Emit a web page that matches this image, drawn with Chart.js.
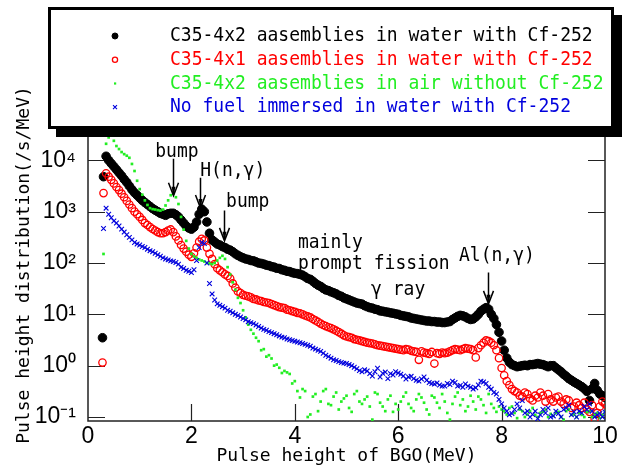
<!DOCTYPE html>
<html>
<head>
<meta charset="utf-8">
<script src="https://cdn.jsdelivr.net/npm/chart.js@4.4.1/dist/chart.umd.min.js"></script>
<style>
    html, body { margin: 0; padding: 0; background: #fff; }
</style>
</head>
<body>
<canvas id="chart" width="628" height="468"></canvas>
<script>
// Pulse height (MeV) of each channel
const energy = [
    0.28, 0.3,
    0.35, 0.4, 0.45, 0.5,
    0.55, 0.6, 0.65, 0.7, 0.75, 0.8, 0.85, 0.9, 0.95, 1.0,
    1.05, 1.1, 1.15, 1.2, 1.25, 1.3, 1.35, 1.4, 1.45, 1.5,
    1.55, 1.6, 1.65, 1.7, 1.75, 1.8, 1.85, 1.9, 1.95, 2.0,
    2.05, 2.1, 2.15, 2.2, 2.25, 2.3, 2.35, 2.4, 2.45, 2.5,
    2.55, 2.6, 2.65, 2.7, 2.75, 2.8, 2.85, 2.9, 2.95, 3.0,
    3.05, 3.1, 3.15, 3.2, 3.25, 3.3, 3.35, 3.4, 3.45, 3.5,
    3.55, 3.6, 3.65, 3.7, 3.75, 3.8, 3.85, 3.9, 3.95, 4.0,
    4.05, 4.1, 4.15, 4.2, 4.25, 4.3, 4.35, 4.4, 4.45, 4.5,
    4.55, 4.6, 4.65, 4.7, 4.75, 4.8, 4.85, 4.9, 4.95, 5.0,
    5.05, 5.1, 5.15, 5.2, 5.25, 5.3, 5.35, 5.4, 5.45, 5.5,
    5.55, 5.6, 5.65, 5.7, 5.75, 5.8, 5.85, 5.9, 5.95, 6.0,
    6.05, 6.1, 6.15, 6.2, 6.25, 6.3, 6.35, 6.4, 6.45, 6.5,
    6.55, 6.6, 6.65, 6.7, 6.75, 6.8, 6.85, 6.9, 6.95, 7.0,
    7.05, 7.1, 7.15, 7.2, 7.25, 7.3, 7.35, 7.4, 7.45, 7.5,
    7.55, 7.6, 7.65, 7.7, 7.75, 7.8, 7.85, 7.9, 7.95, 8.0,
    8.05, 8.1, 8.15, 8.2, 8.25, 8.3, 8.35, 8.4, 8.45, 8.5,
    8.55, 8.6, 8.65, 8.7, 8.75, 8.8, 8.85, 8.9, 8.95, 9.0,
    9.05, 9.1, 9.15, 9.2, 9.25, 9.3, 9.35, 9.4, 9.45, 9.5,
    9.55, 9.6, 9.65, 9.7, 9.75, 9.8, 9.85, 9.9, 9.95, 10.0
];

// Pulse height distribution (/s/MeV), same channel order as energy
const water4x2 = [
    3.5, 4800,
    12000, 10000, 8700, 7600,
    6600, 5750, 5000, 4270, 3720, 3160, 2690, 2340, 2090, 1860,
    1660, 1510, 1380, 1260, 1150, 1070, 1000, 930, 890, 850,
    910, 930, 930, 870, 790, 690, 600, 525, 480, 457,
    500, 630, 890, 1120, 1000, 630, 380, 282, 257, 234,
    224, 209, 200, 186, 178, 166, 151, 141, 132, 126,
    120, 117, 112, 110, 105, 100, 98, 95, 91, 89,
    85, 83, 79, 78, 74, 72, 69, 68, 65, 63,
    62, 60, 58, 54, 50, 48, 44, 40, 37, 35,
    32, 30, 29, 27.5, 26.3, 25.1, 23.4, 22.4, 20.9, 20.0,
    19.1, 18.2, 17.4, 16.6, 16.2, 15.8, 14.8, 14.1, 13.5, 13.2,
    12.6, 12.3, 11.7, 11.5, 11.2, 11.0, 10.7, 10.5, 10.2, 10.0,
    9.55, 9.33, 9.12, 8.91, 8.51, 8.32, 8.13, 7.94, 7.76, 7.59,
    7.41, 7.41, 7.24, 7.24, 7.08, 7.08, 6.92, 6.92, 7.08, 7.24,
    7.94, 8.51, 9.12, 9.55, 9.33, 8.91, 8.32, 7.94, 8.13, 8.91,
    10.0, 11.5, 12.6, 13.5, 12.6, 10.0, 8.32, 6.31, 4.47, 3.02,
    2.0, 1.41, 1.17, 1.05, 1.0, 0.955, 0.977, 1.0, 1.02, 1.0,
    1.05, 1.05, 1.07, 1.1, 1.07, 1.05, 1.0, 0.955, 1.0, 1.0,
    0.91, 0.83, 0.76, 0.68, 0.62, 0.56, 0.52, 0.48, 0.45, 0.42,
    0.39, 0.355, 0.316, 0.21, 0.355, 0.45, 0.33, 0.28, 0.26, 0.24
];
const water4x1 = [
    1.15, 2300,
    5600, 4800, 4170, 3550,
    3020, 2630, 2240, 1910, 1620, 1380, 1170, 1000, 890, 790,
    690, 600, 550, 500, 460, 430, 400, 380, 380, 400,
    430, 450, 400, 330, 275, 224, 191, 166, 145, 132,
    155, 200, 260, 295, 275, 200, 151, 120, 95, 79,
    72, 66, 60, 56, 50, 40, 33, 28, 26, 24,
    23, 22.4, 21.4, 20, 19.5, 18.6, 18.2, 17.4, 17.0, 16.6,
    15.8, 15.1, 14.5, 13.8, 13.5, 13.2, 12.3, 12.0, 11.5, 11.2,
    10.7, 10.5, 10.0, 9.5, 9.1, 8.7, 8.1, 7.6, 7.1, 6.6,
    6.2, 5.9, 5.6, 5.4, 5.1, 4.8, 4.5, 4.2, 3.9, 3.7,
    3.6, 3.5, 3.3, 3.2, 3.1, 3.0, 2.9, 2.8, 2.75, 2.7,
    2.6, 2.5, 2.45, 2.4, 2.35, 2.3, 2.25, 2.2, 2.15, 2.1,
    2.05, 2.0, 2.1, 2.05, 1.95, 1.9, 1.85, 1.3, 1.9, 1.8,
    1.75, 1.7, 1.85, 1.1, 1.75, 1.7, 1.8, 1.75, 1.8, 1.9,
    2.0, 2.1, 2.05, 2.0, 2.1, 2.2, 2.15, 2.1, 2.0, 1.45,
    2.2, 2.5, 2.8, 3.1, 3.0, 2.8, 2.5, 2.0, 1.4, 0.9,
    0.65, 0.5, 0.42, 0.35, 0.32, 0.3, 0.26, 0.25, 0.3, 0.28,
    0.23, 0.21, 0.26, 0.24, 0.3, 0.26, 0.2, 0.28, 0.22, 0.2,
    0.24, 0.25, 0.2, 0.18, 0.22, 0.21, 0.15, 0.16, 0.19, 0.17,
    0.15, 0.19, 0.14, 0.126, 0.17, 0.093, 0.12, 0.16, 0.2, 0.18
];
const air4x2 = [
    null, 150,
    21000, 28000, 32000, 24000,
    19000, 16600, 14500, 13200, 12300, 11200, 8500, 6200, 4000, 2750,
    2140, 1660, 1350, 1170, 1120, 1100, 1070, 1050, 1100, 1320,
    1660, 2090, 2240, 1910, 1410, 790, 447, 270, 191, 151,
    135, 126, 117, 112, 107, 100, 98, 95, 100, 112,
    126, 138, 120, 83, 60, 42, 30, 21, 16.6, 12.0,
    8.7, 6.3, 5.0, 4.2, 3.5, 3.0, 2.0, 2.1, 1.5, 1.6,
    1.38, 1.0, 1.05, 0.91, 0.72, 0.79, 0.74, 0.69, 0.45, 0.5,
    0.32, 0.24, 0.35, 0.32, 0.1, 0.112, 0.25, 0.28, 0.13, 0.2,
    0.32, 0.35, 0.18, 0.17, 0.25, 0.3, 0.14, 0.2, 0.23, 0.26,
    0.15, 0.126, 0.28, 0.32, 0.2, 0.18, 0.22, 0.25, 0.16, 0.089,
    0.3, 0.28, 0.19, 0.16, 0.13, 0.22, 0.26, 0.126, 0.18, 0.14,
    0.2, 0.25, 0.3, 0.18, 0.15, 0.13, 0.22, 0.28, 0.24, 0.19,
    0.14, 0.112, 0.26, 0.24, 0.19, 0.15, 0.28, 0.2, 0.12, 0.089,
    0.18, 0.25, 0.3, 0.17, 0.22, 0.13, 0.16, 0.26, 0.2, 0.14,
    0.25, 0.22, 0.17, 0.12, 0.28, 0.18, 0.15, 0.126, 0.16, 0.14,
    0.13, 0.112, 0.15, 0.16, 0.12, 0.095, 0.14, 0.13, 0.1, 0.112,
    0.13, 0.15, 0.11, 0.1, 0.12, 0.126, 0.14, 0.1, 0.115, 0.105,
    0.12, 0.126, 0.1, 0.089, 0.13, 0.14, 0.11, 0.112, 0.1, 0.12,
    0.11, 0.1, 0.125, 0.13, 0.1, 0.112, 0.12, 0.095, 0.11, 0.126
];
const noFuel = [
    null, 470,
    1170, 890, 760, 660,
    600, 525, 457, 400, 355, 316, 282, 251, 234, 224,
    209, 200, 186, 174, 166, 155, 145, 135, 126, 120,
    115, 110, 107, 102, 95, 83, 78, 72, 69, 65,
    74, 112, 200, 251, 240, 100, 40, 25, 19, 16,
    15, 14.1, 13.2, 12.0, 11.5, 10.7, 10.0, 9.5, 8.9, 8.3,
    7.8, 7.2, 6.9, 6.6, 6.2, 5.8, 5.4, 5.1, 4.9, 4.6,
    4.4, 4.2, 4.0, 3.8, 3.6, 3.5, 3.3, 3.2, 3.1, 3.0,
    2.9, 2.8, 2.7, 2.6, 2.5, 2.4, 2.2, 2.1, 2.0, 1.9,
    1.75, 1.6, 1.5, 1.4, 1.3, 1.26, 1.2, 1.15, 1.12, 1.1,
    1.05, 1.0, 0.93, 0.87, 0.8, 0.76, 0.83, 0.79, 0.7, 0.63,
    0.76, 0.89, 0.6, 0.71, 0.75, 0.56, 0.7, 0.66, 0.76, 0.72,
    0.68, 0.63, 0.55, 0.6, 0.62, 0.56, 0.52, 0.5, 0.55, 0.6,
    0.52, 0.47, 0.45, 0.44, 0.46, 0.42, 0.4, 0.4, 0.45, 0.43,
    0.5, 0.47, 0.4, 0.41, 0.38, 0.44, 0.4, 0.38, 0.35, 0.37,
    0.42, 0.5, 0.48, 0.45, 0.38, 0.35, 0.3, 0.28, 0.22, 0.18,
    0.15, 0.13, 0.11, 0.117, 0.14, 0.18, 0.15, 0.21, 0.12, 0.13,
    0.1, 0.112, 0.13, 0.093, 0.11, 0.14, 0.12, 0.15, 0.1, 0.105,
    0.13, 0.117, 0.1, 0.14, 0.15, 0.17, 0.11, 0.126, 0.1, 0.13,
    0.12, 0.16, 0.14, 0.18, 0.13, 0.1, 0.11, 0.117, 0.1, 0.126
];

const seriesNames = [
    "C35-4x2 aasemblies in water with Cf-252",
    "C35-4x1 aasemblies in water with Cf-252",
    "C35-4x2 aasemblies in air without Cf-252",
    "No fuel immersed in water with Cf-252"
];
const xTicks = [0, 2, 4, 6, 8, 10];
const yTicks = [0.1, 1, 10, 100, 1000, 10000];

const MONO = '"DejaVu Sans Mono", monospace';
const SUP = { "-": "\u207B", "0": "\u2070", "1": "\u00B9", "2": "\u00B2", "3": "\u00B3", "4": "\u2074", "5": "\u2075" };

const toPoints = (vals) => energy.map((e, i) => ({ x: e, y: vals[i] }));

// plot frame with inward ticks on all sides
const frameTicks = {
    id: "frameTicks",
    beforeDatasetsDraw(chart) {
        const { ctx, chartArea: a, scales: { x, y } } = chart;
        ctx.save();
        ctx.strokeStyle = "#222";
        ctx.lineWidth = 1.5;
        ctx.strokeRect(a.left, a.top, a.right - a.left, a.bottom - a.top);
        ctx.lineWidth = 1.2;
        ctx.beginPath();
        x.ticks.forEach((t) => {
            const px = Math.round(x.getPixelForValue(t.value)) + 0.5;
            if (px < a.left + 2 || px > a.right - 2) return;
            ctx.moveTo(px, a.bottom); ctx.lineTo(px, a.bottom - 17);
            ctx.moveTo(px, a.top); ctx.lineTo(px, a.top + 17);
        });
        y.ticks.forEach((t) => {
            const py = Math.round(y.getPixelForValue(t.value)) + 0.5;
            ctx.moveTo(a.left, py); ctx.lineTo(a.left + 17, py);
            ctx.moveTo(a.right, py); ctx.lineTo(a.right - 17, py);
        });
        ctx.stroke();
        ctx.restore();
    }
};

function tallText(ctx, text, x, y, align) {
    ctx.save();
    ctx.translate(x, y);
    ctx.scale(1, 1.12);
    ctx.textAlign = align || "left";
    ctx.textBaseline = "middle";
    ctx.fillText(text, 0, 0);
    ctx.restore();
}

// labels and arrows placed in data coordinates
const notes = [
    { text: "bump", e: 1.72, v: 15000, align: "center" },
    { text: "H(n,\u03B3)", e: 2.8, v: 6200, align: "center" },
    { text: "bump", e: 3.09, v: 1550, align: "center" },
    { text: "mainly", e: 4.06, v: 246, align: "left" },
    { text: "prompt fission", e: 4.06, v: 96, align: "left" },
    { text: "\u03B3 ray", e: 6.0, v: 30, align: "center" },
    { text: "Al(n,\u03B3)", e: 7.91, v: 138, align: "center" }
];
const arrows = [
    { e: 1.64, from: 10700, to: 2040 },
    { e: 2.17, from: 4570, to: 1175 },
    { e: 2.63, from: 1050, to: 270 },
    { e: 7.74, from: 65, to: 16 }
];

const annotate = {
    id: "annotate",
    afterDatasetsDraw(chart) {
        const { ctx, scales: { x, y } } = chart;
        ctx.save();
        ctx.fillStyle = "#000";
        ctx.font = "18px " + MONO;
        notes.forEach((n) => tallText(ctx, n.text, x.getPixelForValue(n.e), y.getPixelForValue(n.v), n.align));
        ctx.strokeStyle = "#000";
        ctx.lineWidth = 1.5;
        arrows.forEach((a) => {
            const px = Math.round(x.getPixelForValue(a.e)) + 0.5;
            const y0 = y.getPixelForValue(a.from);
            const y1 = y.getPixelForValue(a.to);
            ctx.beginPath();
            ctx.moveTo(px, y0); ctx.lineTo(px, y1);
            ctx.moveTo(px - 5, y1 - 13); ctx.lineTo(px, y1); ctx.lineTo(px + 5, y1 - 13);
            ctx.stroke();
            ctx.beginPath();
            ctx.moveTo(px, y1); ctx.lineTo(px - 2, y1 - 9); ctx.lineTo(px + 2, y1 - 9);
            ctx.closePath();
            ctx.fill();
        });
        ctx.restore();
    }
};

function drawMarker(ctx, ds, cx, cy) {
    ctx.save();
    ctx.fillStyle = ds.pointBackgroundColor;
    ctx.strokeStyle = ds.pointBorderColor;
    ctx.lineWidth = ds.pointBorderWidth;
    if (ds.pointStyle === "circle") {
        const r = ds.pointRadius * 0.7;
        ctx.beginPath(); ctx.arc(cx, cy, r, 0, Math.PI * 2);
        ctx.fill();
        if (ds.pointBorderWidth) ctx.stroke();
    } else if (ds.pointStyle === "rect") {
        ctx.fillRect(cx - 1, cy - 1, 2.2, 2.2);
    } else {
        ctx.beginPath();
        ctx.moveTo(cx - 2, cy - 2); ctx.lineTo(cx + 2, cy + 2);
        ctx.moveTo(cx + 2, cy - 2); ctx.lineTo(cx - 2, cy + 2);
        ctx.stroke();
    }
    ctx.restore();
}

// boxed legend with drop shadow, drawn over the top of the plot
const boxLegend = {
    id: "boxLegend",
    afterDraw(chart) {
        const ctx = chart.ctx;
        ctx.save();
        ctx.fillStyle = "#000";
        ctx.fillRect(56, 15, 566, 122);
        ctx.fillStyle = "#fff";
        ctx.fillRect(48, 7, 566, 122);
        ctx.strokeStyle = "#000";
        ctx.lineWidth = 3;
        ctx.strokeRect(49.5, 8.5, 563, 119);
        ctx.font = "18px " + MONO;
        chart.data.datasets.forEach((ds, i) => {
            const rowY = 36 + i * 23.7;
            drawMarker(ctx, ds, 115, rowY);
            ctx.fillStyle = ds.textColor;
            tallText(ctx, ds.label, 170, rowY, "left");
        });
        ctx.restore();
    }
};

const tickFont = { family: '"Liberation Sans Narrow", "Liberation Sans", sans-serif', size: 23 };

new Chart(document.getElementById("chart"), {
    type: "scatter",
    data: {
        datasets: [
            {
                label: seriesNames[0], data: toPoints(water4x2), order: 4, textColor: "#000",
                pointStyle: "circle", pointRadius: 4.3, pointBorderWidth: 1,
                pointBackgroundColor: "#000", pointBorderColor: "#000"
            },
            {
                label: seriesNames[1], data: toPoints(water4x1), order: 3, textColor: "#ff0000",
                pointStyle: "circle", pointRadius: 3.7, pointBorderWidth: 1.3,
                pointBackgroundColor: "rgba(0,0,0,0)", pointBorderColor: "#ff0000"
            },
            {
                label: seriesNames[2], data: toPoints(air4x2), order: 2, textColor: "#22ee22",
                pointStyle: "rect", pointRadius: 1.9, pointBorderWidth: 0,
                pointBackgroundColor: "#22ee22", pointBorderColor: "#22ee22"
            },
            {
                label: seriesNames[3], data: toPoints(noFuel), order: 1, textColor: "#0000dd",
                pointStyle: "crossRot", pointRadius: 3.3, pointBorderWidth: 1.1,
                pointBackgroundColor: "#0000dd", pointBorderColor: "#0000dd"
            }
        ]
    },
    options: {
        responsive: false,
        animation: false,
        devicePixelRatio: 1,
        events: [],
        layout: { padding: { left: 0, top: 109, right: 23, bottom: 0 } },
        plugins: { legend: { display: false }, tooltip: { enabled: false } },
        scales: {
            x: {
                type: "linear", min: 0, max: 10,
                afterBuildTicks: (s) => { s.ticks = xTicks.map((v) => ({ value: v })); },
                afterFit: (s) => { s.height = 47; },
                grid: { display: false, drawTicks: false },
                border: { display: false },
                ticks: { color: "#000", font: tickFont, padding: 2, maxRotation: 0 },
                title: { display: true, text: "Pulse height of BGO(MeV)", color: "#000", font: { family: MONO, size: 18 }, padding: { top: 0, bottom: 1 } }
            },
            y: {
                type: "logarithmic", min: 0.0836, max: 100000,
                afterBuildTicks: (s) => { s.ticks = yTicks.map((v) => ({ value: v })); },
                afterFit: (s) => { s.width = 88; },
                grid: { display: false, drawTicks: false },
                border: { display: false },
                ticks: {
                    color: "#000", font: tickFont, padding: 12,
                    callback: (v) => "10" + String(Math.round(Math.log10(v))).split("").map((c) => SUP[c]).join("")
                },
                title: { display: true, text: "Pulse height distribution(/s/MeV)", color: "#000", font: { family: MONO, size: 18 }, padding: { top: 14, bottom: 0 } }
            }
        }
    },
    plugins: [frameTicks, annotate, boxLegend]
});
</script>
</body>
</html>
